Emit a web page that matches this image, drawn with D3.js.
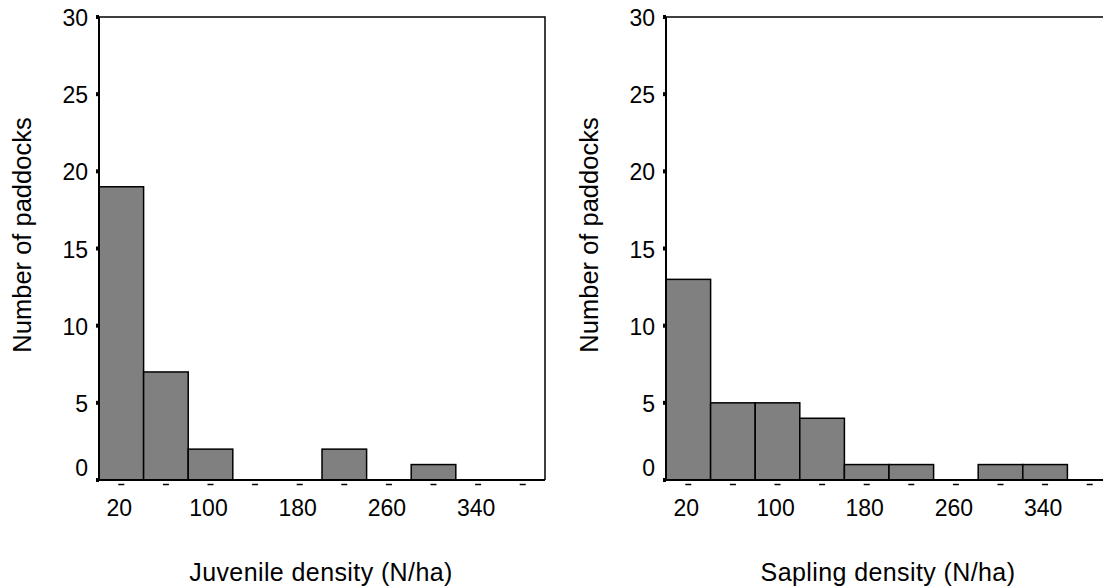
<!DOCTYPE html>
<html>
<head>
<meta charset="utf-8">
<script src="https://cdn.jsdelivr.net/npm/d3@7"></script>
<style>
  body { margin: 0; background: #fff; }
  text { font-family: "Liberation Sans", Arial, sans-serif; fill: #000; }
</style>
</head>
<body>
<svg id="chart" width="1103" height="588"></svg>
<script>
// bin centres (N/ha), 40-wide bins
const binCentres = [20, 60, 100, 140, 180, 220, 260, 300, 340, 380]
const xTickLabels = [20, 100, 180, 260, 340]
const yTicks = [0, 5, 10, 15, 20, 25, 30]

const juvenileCounts = [19, 7, 2, 0, 0, 2, 0, 1, 0, 0]
const saplingCounts = [13, 5, 5, 4, 1, 1, 0, 1, 1, 0]

const panels = [
  { counts: juvenileCounts, title: "Juvenile density (N/ha)", left: 99, titleX: 321, yTitleX: 31 },
  { counts: saplingCounts, title: "Sapling density (N/ha)", left: 666, titleX: 888, yTitleX: 598 }
]

const svg = d3.select("#chart")
const plotW = 446, plotTop = 17, plotBottom = 480

const y = d3.scaleLinear().domain([0, 30]).range([plotBottom, plotTop])

panels.forEach(p => {
  const x = d3.scaleLinear().domain([0, 400]).range([p.left, p.left + plotW])
  const g = svg.append("g")

  // frame: top and right thin lines
  g.append("path")
    .attr("d", `M${p.left},${plotTop}H${p.left + plotW}V${plotBottom}`)
    .attr("fill", "none").attr("stroke", "#000").attr("stroke-width", 1.5)

  // bars
  g.selectAll("rect.bar")
    .data(binCentres.map((c, i) => ({ c, n: p.counts[i] })).filter(d => d.n > 0))
    .enter().append("rect").classed("bar", true)
      .attr("x", d => x(d.c - 20))
      .attr("width", d => x(d.c + 20) - x(d.c - 20))
      .attr("y", d => y(d.n))
      .attr("height", d => y(0) - y(d.n))
      .attr("fill", "#808080")
      .attr("stroke", "#000")
      .attr("stroke-width", 1.5)

  // axes lines
  g.append("line")
    .attr("x1", p.left).attr("x2", p.left + plotW)
    .attr("y1", plotBottom).attr("y2", plotBottom)
    .attr("stroke", "#000").attr("stroke-width", 2)
  g.append("line")
    .attr("x1", p.left).attr("x2", p.left)
    .attr("y1", plotTop).attr("y2", plotBottom)
    .attr("stroke", "#000").attr("stroke-width", 2)

  // y ticks: small squares
  g.selectAll("rect.ytick")
    .data(yTicks)
    .enter().append("rect").classed("ytick", true)
      .attr("x", p.left - 3).attr("y", d => y(d) - 2)
      .attr("width", 3).attr("height", 4)
      .attr("fill", "#000")
  g.selectAll("text.ylab")
    .data(yTicks)
    .enter().append("text").classed("ylab", true)
      .attr("x", p.left - 11)
      .attr("y", d => y(d) + (d === 0 ? -4 : 9))
      .attr("text-anchor", "end")
      .attr("font-size", 23)
      .text(d => d)

  // x ticks: dashes under each bin
  g.selectAll("line.xtick")
    .data(binCentres)
    .enter().append("line").classed("xtick", true)
      .attr("x1", d => x(d) - 3).attr("x2", d => x(d) + 3)
      .attr("y1", plotBottom + 4.5).attr("y2", plotBottom + 4.5)
      .attr("stroke", "#000").attr("stroke-width", 1.5)
  g.selectAll("text.xlab")
    .data(xTickLabels)
    .enter().append("text").classed("xlab", true)
      .attr("x", d => x(d) - 2)
      .attr("y", plotBottom + 36)
      .attr("text-anchor", "middle")
      .attr("font-size", 23)
      .text(d => d)

  // axis titles
  g.append("text")
    .attr("x", p.titleX).attr("y", 581)
    .attr("text-anchor", "middle")
    .attr("font-size", 25)
    .attr("letter-spacing", 0.4)
    .text(p.title)
  g.append("text")
    .attr("transform", `translate(${p.yTitleX},235) rotate(-90)`)
    .attr("text-anchor", "middle")
    .attr("font-size", 25.5)
    .text("Number of paddocks")
})
</script>
</body>
</html>
